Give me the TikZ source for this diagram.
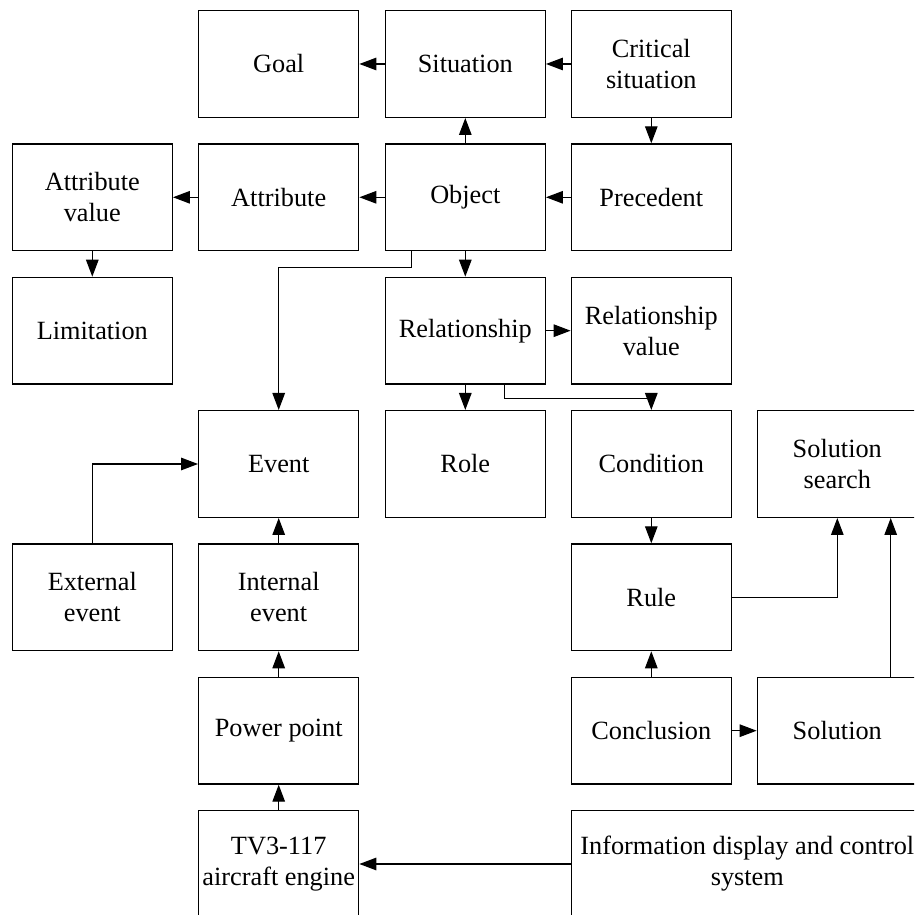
\documentclass[tikz,border=0pt]{standalone}
\usepackage{fontspec}
\setmainfont{Liberation Serif}
\usetikzlibrary{arrows.meta}
\begin{document}
\begin{tikzpicture}[x=1pt,y=1pt,
  box/.style={draw,line width=1.3pt,rectangle,minimum width=160pt,minimum height=106.7pt,inner sep=0pt,align=center,font=\fontsize{26.3}{31}\selectfont},
  arr/.style={line width=1.3pt,-{Triangle[length=17pt,width=12.5pt]}}]
\clip (0,0) rectangle (914,915);
\fill[white] (0,0) rectangle (914,915);
\node[box] (goal) at (278.7,851) {Goal};
\node[box] (sit) at (465.3,851) {Situation};
\node[box] (crit) at (651.3,851) {Critical\\situation};
\node[box] (attrval) at (92.3,717.7) {Attribute\\value};
\node[box] (attr) at (278.7,717.7) {Attribute};
\node[box] (obj) at (465.3,717.7) {Object};
\node[box] (prec) at (651.3,717.7) {Precedent};
\node[box] (lim) at (92.3,584.3) {Limitation};
\node[box] (rel) at (465.3,584.3) {Relationship};
\node[box] (relval) at (651.3,584.3) {Relationship\\value};
\node[box] (event) at (278.7,451) {Event};
\node[box] (role) at (465.3,451) {Role};
\node[box] (cond) at (651.3,451) {Condition};
\node[box] (ss) at (837.3,451) {Solution\\search};
\node[box] (ext) at (92.3,317.7) {External\\event};
\node[box] (int) at (278.7,317.7) {Internal\\event};
\node[box] (rule) at (651.3,317.7) {Rule};
\node[box] (pp) at (278.7,184.3) {Power point};
\node[box] (concl) at (651.3,184.3) {Conclusion};
\node[box] (sol) at (837.3,184.3) {Solution};
\node[box] (tv) at (278.7,51) {TV3-117\\aircraft engine};
\node[box,minimum width=352pt] (info) at (747.3,51) {Information display and control\\system};
% connectors
\draw[arr] (sit.west) -- (goal.east);
\draw[arr] (crit.west) -- (sit.east);
\draw[arr] (crit.south) -- (prec.north);
\draw[arr] (obj.north) -- (sit.south);
\draw[arr] (prec.west) -- (obj.east);
\draw[arr] (obj.west) -- (attr.east);
\draw[arr] (attr.west) -- (attrval.east);
\draw[arr] (attrval.south) -- (lim.north);
\draw[arr] (obj.south) -- (rel.north);
\draw[arr] ([xshift=-53.6pt]obj.south) -- ++(0,-16) -| (event.north);
\draw[arr] (rel.east) -- (relval.west);
\draw[arr] (rel.south) -- (role.north);
\draw[arr] ([xshift=39.4pt]rel.south) -- ++(0,-13.7) -| (cond.north);
\draw[arr] (ext.north) |- (event.west);
\draw[arr] (int.north) -- (event.south);
\draw[arr] (pp.north) -- (int.south);
\draw[arr] (tv.north) -- (pp.south);
\draw[arr] (info.west) -- (tv.east);
\draw[arr] (cond.south) -- (rule.north);
\draw[arr] (concl.north) -- (rule.south);
\draw[arr] (concl.east) -- (sol.west);
\draw[arr] (rule.east) -| (ss.south);
\draw[arr] ([xshift=53.4pt]sol.north) -- ([xshift=53.4pt]ss.south);
\end{tikzpicture}
\end{document}
